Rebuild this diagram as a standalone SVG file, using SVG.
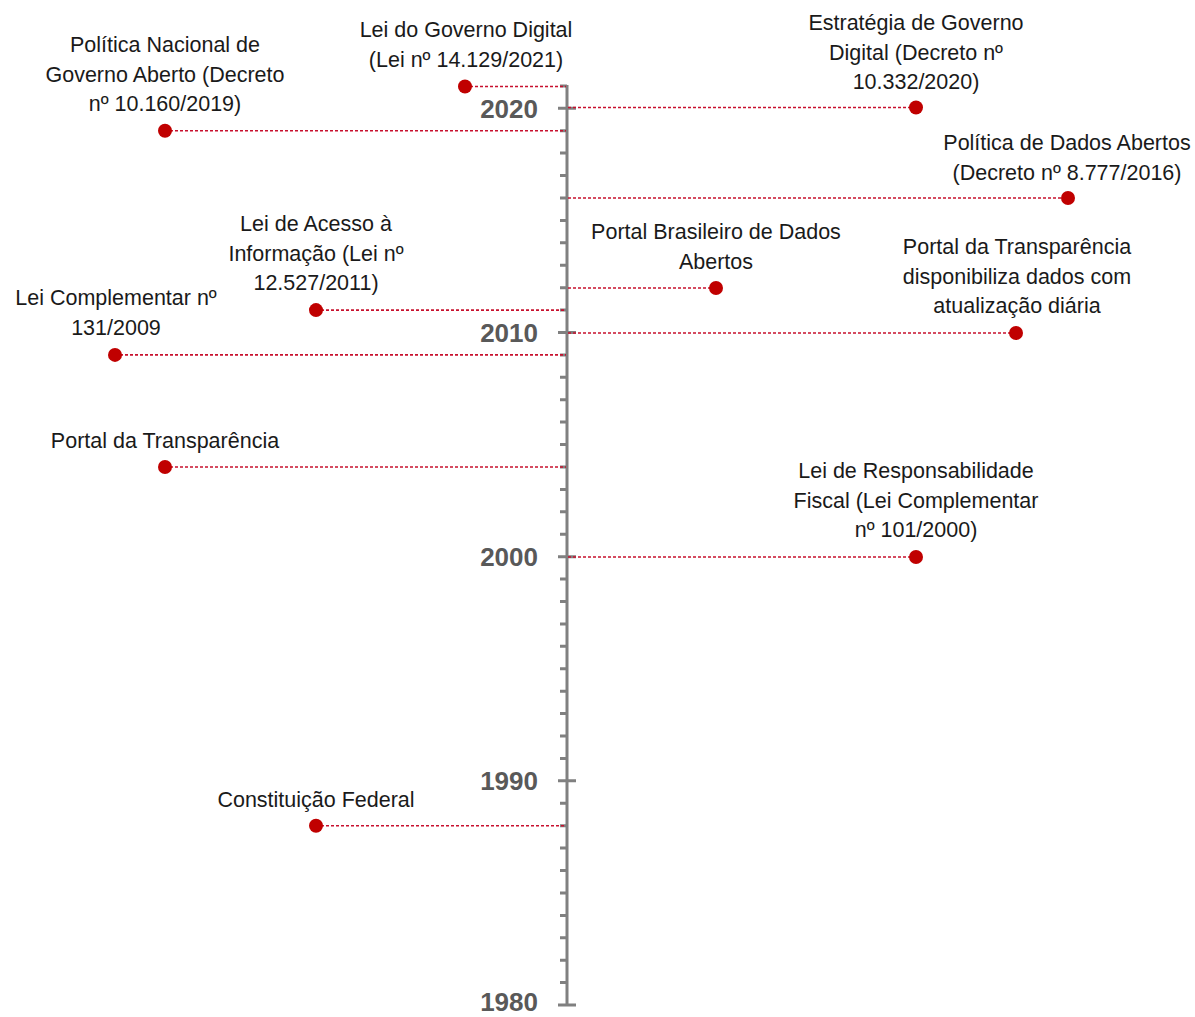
<svg xmlns="http://www.w3.org/2000/svg" width="1195" height="1017" viewBox="0 0 1195 1017">
  <style>
    .lbl { font-family: "Liberation Sans", Arial, sans-serif; font-size: 21.5px; fill: #1a1a1a; text-anchor: middle; }
    .yr { font-family: "Liberation Sans", Arial, sans-serif; font-size: 26px; font-weight: bold; fill: #595959; text-anchor: end; }
    .axis { stroke: #808080; stroke-width: 3; fill: none; }
    .tick { stroke: #808080; stroke-width: 3; }
    .link { stroke: #c8102e; stroke-width: 1.6; stroke-dasharray: 3 2; fill: none; }
    .dot { fill: #c00000; }
  </style>
  <rect width="1195" height="1017" fill="#ffffff"/>

  <!-- Time axis: 1980 (y=1005) to 2021 (y=85), 22.42 px per year -->
  <g id="axis">
    <line class="axis" x1="567" y1="85" x2="567" y2="1006"/>
    <g id="minor-ticks">
      <path class="tick" d="M560 85.9H567 M560 130.7H567 M560 153.1H567 M560 175.6H567 M560 198H567 M560 220.4H567 M560 242.8H567 M560 265.3H567 M560 287.7H567 M560 310.1H567 M560 354.9H567 M560 377.3H567 M560 399.7H567 M560 422.1H567 M560 444.6H567 M560 467H567 M560 489.4H567 M560 511.8H567 M560 534.2H567 M560 579.1H567 M560 601.5H567 M560 623.9H567 M560 646.3H567 M560 668.8H567 M560 691.2H567 M560 713.6H567 M560 736H567 M560 758.4H567 M560 803.3H567 M560 825.7H567 M560 848.1H567 M560 870.5H567 M560 892.9H567 M560 915.4H567 M560 937.8H567 M560 960.2H567 M560 982.6H567"/>
    </g>
    <g id="major-ticks">
      <path class="tick" d="M558 108.3H576 M558 332.5H576 M558 556.7H576 M558 780.8H576 M558 1005H576"/>
    </g>
    <text class="yr" x="538" y="117.5">2020</text>
    <text class="yr" x="538" y="341.5">2010</text>
    <text class="yr" x="538" y="565.5">2000</text>
    <text class="yr" x="538" y="790">1990</text>
    <text class="yr" x="538" y="1011">1980</text>
  </g>

  <!-- Dotted leaders from the axis to each event -->
  <g id="connectors">
    <line class="link" x1="465" y1="86.5" x2="566" y2="86.5"/>
    <line class="link" x1="568" y1="107.5" x2="916" y2="107.5"/>
    <line class="link" x1="165" y1="130.7" x2="566" y2="130.7"/>
    <line class="link" x1="568" y1="198" x2="1068" y2="198"/>
    <line class="link" x1="568" y1="288" x2="716" y2="288"/>
    <line class="link" x1="316" y1="310.1" x2="566" y2="310.1"/>
    <line class="link" x1="568" y1="333" x2="1016" y2="333"/>
    <line class="link" x1="115" y1="354.9" x2="566" y2="354.9"/>
    <line class="link" x1="165" y1="467" x2="566" y2="467"/>
    <line class="link" x1="568" y1="557" x2="916" y2="557"/>
    <line class="link" x1="316" y1="825.7" x2="566" y2="825.7"/>
  </g>

  <g id="lei-governo-digital">
    <circle class="dot" cx="465" cy="86.5" r="7"/>
    <text class="lbl" x="466" y="37">Lei do Governo Digital</text>
    <text class="lbl" x="466" y="67">(Lei nº 14.129/2021)</text>
  </g>

  <g id="estrategia-governo-digital">
    <circle class="dot" cx="916" cy="107.5" r="7"/>
    <text class="lbl" x="916" y="30">Estratégia de Governo</text>
    <text class="lbl" x="916" y="60">Digital (Decreto nº</text>
    <text class="lbl" x="916" y="89">10.332/2020)</text>
  </g>

  <g id="politica-governo-aberto">
    <circle class="dot" cx="165" cy="130.7" r="7"/>
    <text class="lbl" x="165" y="52">Política Nacional de</text>
    <text class="lbl" x="165" y="82">Governo Aberto (Decreto</text>
    <text class="lbl" x="165" y="111">nº 10.160/2019)</text>
  </g>

  <g id="politica-dados-abertos">
    <circle class="dot" cx="1068" cy="198" r="7"/>
    <text class="lbl" x="1067" y="150">Política de Dados Abertos</text>
    <text class="lbl" x="1067" y="180">(Decreto nº 8.777/2016)</text>
  </g>

  <g id="portal-brasileiro-dados">
    <circle class="dot" cx="716" cy="288" r="7"/>
    <text class="lbl" x="716" y="239">Portal Brasileiro de Dados</text>
    <text class="lbl" x="716" y="269">Abertos</text>
  </g>

  <g id="lei-acesso-informacao">
    <circle class="dot" cx="316" cy="310.1" r="7"/>
    <text class="lbl" x="316" y="231">Lei de Acesso à</text>
    <text class="lbl" x="316" y="261">Informação (Lei nº</text>
    <text class="lbl" x="316" y="290">12.527/2011)</text>
  </g>

  <g id="portal-transparencia-diaria">
    <circle class="dot" cx="1016" cy="333" r="7"/>
    <text class="lbl" x="1017" y="254">Portal da Transparência</text>
    <text class="lbl" x="1017" y="284">disponibiliza dados com</text>
    <text class="lbl" x="1017" y="313">atualização diária</text>
  </g>

  <g id="lei-complementar-131">
    <circle class="dot" cx="115" cy="354.9" r="7"/>
    <text class="lbl" x="116" y="305">Lei Complementar nº</text>
    <text class="lbl" x="116" y="335">131/2009</text>
  </g>

  <g id="portal-transparencia">
    <circle class="dot" cx="165" cy="467" r="7"/>
    <text class="lbl" x="165" y="448">Portal da Transparência</text>
  </g>

  <g id="lei-responsabilidade-fiscal">
    <circle class="dot" cx="916" cy="557" r="7"/>
    <text class="lbl" x="916" y="478">Lei de Responsabilidade</text>
    <text class="lbl" x="916" y="508">Fiscal (Lei Complementar</text>
    <text class="lbl" x="916" y="537">nº 101/2000)</text>
  </g>

  <g id="constituicao-federal">
    <circle class="dot" cx="316" cy="825.7" r="7"/>
    <text class="lbl" x="316" y="807">Constituição Federal</text>
  </g>
</svg>
